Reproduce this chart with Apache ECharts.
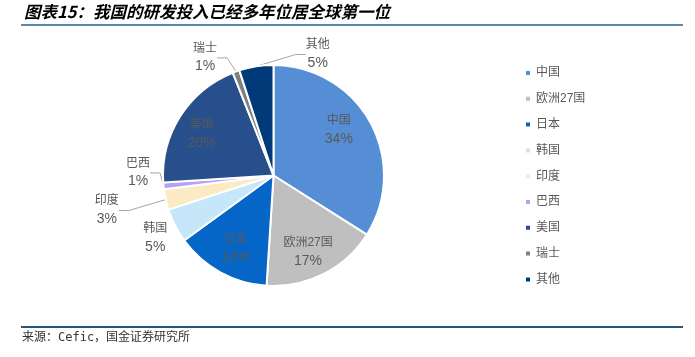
<!DOCTYPE html>
<html><head><meta charset="utf-8">
<script src="https://cdn.jsdelivr.net/npm/echarts@6/dist/echarts.min.js"></script>
<style>html,body{margin:0;padding:0;background:#fff}#c{width:695px;height:357px}</style>
</head><body><div id="c"></div>
<script>
var categories = ['中国','欧洲27国','日本','韩国','印度','巴西','美国','瑞士','其他'];
var shares = [34, 17, 14, 5, 3, 1, 20, 1, 5];
var colors = ['#558ED5','#BFBFBF','#0566C8','#C6E6FA','#FCEBC2','#B69FF7','#264F8B','#808080','#003A78'];
// label placement style: radial factor and angle shift (deg) from slice middle
var labelRadius = [0.72, 0.76, 0.745, 1.21, 1.54, 1.226, 0.75, 1.235, 1.17];
var labelShift = [-6, 2.7, -1.3, -0.8, 0.9, 6.7, -2.3, -10.3, 29];
var insideLabel = [true, true, true, false, false, false, true, false, false];
var showLine = [false, false, false, false, true, true, false, true, true];

var CX = 273.5, CY = 175.5, R = 110.5;
var total = shares.reduce(function(a,b){return a+b;},0);
var mids = []; var cum = 0;
shares.forEach(function(v){ mids.push((cum + v/2)/total*360); cum += v; });

var FONT = '"Liberation Sans", Arial, "Noto Sans CJK SC", sans-serif';
var chart = echarts.init(document.getElementById('c'));
chart.setOption({
  animation: false,
  title: {
    text: '图表15：我国的研发投入已经多年位居全球第一位',
    left: 19, top: -2,
    textStyle: {fontSize: 16.5, fontWeight: 'bold', fontStyle: 'italic', color: '#000', fontFamily: '"Noto Sans CJK SC", sans-serif'}
  },
  graphic: [
    {type:'rect', shape:{x:21, y:24, width:662, height:2}, style:{fill:'#5A88A6'}, silent:true},
    {type:'rect', shape:{x:21, y:326, width:662, height:2}, style:{fill:'#23557E'}, silent:true},
    {type:'text', left: 22, top: 332, style:{text:'来源：Cefic，国金证券研究所', fontSize: 12, fill:'#333', fontFamily:'"DejaVu Sans Mono", "Noto Sans CJK SC", monospace'}}
  ],
  legend: {
    orient: 'vertical', left: 524, top: 67, padding: 0,
    itemWidth: 6, itemHeight: 6, icon: 'rect', itemGap: 13.8,
    textStyle: {fontSize: 12, color: '#595959', fontFamily: FONT},
    data: categories
  },
  series: [{
    type: 'pie',
    center: [CX, CY], radius: [0, R],
    startAngle: 90, clockwise: true,
    avoidLabelOverlap: false,
    itemStyle: {borderColor: '#fff', borderWidth: 2},
    label: {
      formatter: function(p){ return '{n|' + p.name + '}\n{v|' + p.value + '%}'; },
      rich: {
        n: {fontSize: 12, lineHeight: 18, color: '#595959', fontFamily: FONT},
        v: {fontSize: 14, lineHeight: 18, color: '#595959', fontFamily: FONT}
      }
    },
    labelLine: {lineStyle: {color: '#A6A6A6', width: 1}, length: 10, length2: 10},
    labelLayout: function(p){
      var i = p.dataIndex;
      var a = (mids[i] + labelShift[i]) * Math.PI / 180;
      var d = R * labelRadius[i];
      return {x: CX + d*Math.sin(a), y: CY - d*Math.cos(a), align: 'center', verticalAlign: 'middle'};
    },
    data: categories.map(function(n, i){
      return {
        name: n, value: shares[i],
        itemStyle: {color: colors[i]},
        label: {position: insideLabel[i] ? 'inside' : 'outside'},
        labelLine: {show: showLine[i]}
      };
    })
  }]
});
</script></body></html>
